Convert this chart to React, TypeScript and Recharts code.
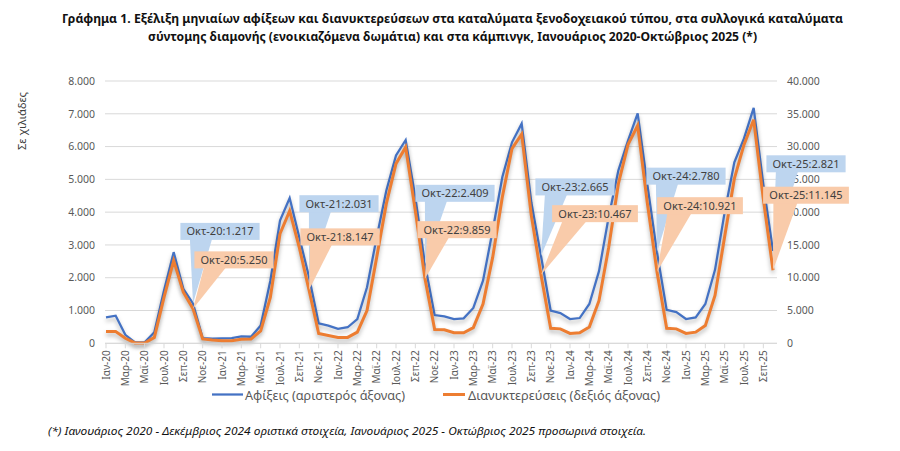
import React from 'react';
import { LineChart, Line, XAxis, YAxis, CartesianGrid } from 'recharts';

const monthNames = ['Ιαν', 'Φεβ', 'Μαρ', 'Απρ', 'Μαϊ', 'Ιουν', 'Ιουλ', 'Αυγ', 'Σεπ', 'Οκτ', 'Νοε', 'Δεκ'];
const years = ['20', '21', '22', '23', '24', '25'];

// Arrivals (thousands) – left axis
const arrivals = [
  790, 840, 260, 30, 30, 340, 1610, 2780, 1660, 1217, 160, 140,
  150, 160, 210, 200, 540, 1910, 3740, 4430, 3230, 2031, 610, 540,
  440, 490, 740, 1710, 3230, 4660, 5730, 6200, 4460, 2409, 860, 820,
  740, 760, 1080, 1910, 3440, 5070, 6130, 6700, 4300, 2665, 1000, 920,
  740, 770, 1200, 2200, 3850, 5270, 6180, 7010, 4850, 2780, 1020, 950,
  740, 790, 1200, 2240, 4000, 5520, 6250, 7180, 4850, 2821,
];

// Overnight stays (thousands) – right axis
const overnights = [
  1800, 1800, 760, 50, 50, 900, 7000, 12600, 7800, 5250, 660, 500,
  400, 400, 600, 660, 1900, 7000, 16700, 20200, 14600, 8147, 1500, 1200,
  900, 900, 1700, 5000, 13100, 21300, 27400, 29900, 20200, 9859, 2100, 2050,
  1600, 1600, 2400, 6000, 13100, 22300, 29700, 31900, 19500, 10467, 2300, 2200,
  1500, 1600, 2500, 6500, 14600, 24300, 30300, 33200, 21400, 10921, 2300, 2200,
  1500, 1700, 2700, 7300, 16300, 25100, 30300, 34100, 22000, 11145,
];

const leftTicks = [0, 1000, 2000, 3000, 4000, 5000, 6000, 7000, 8000];
const rightTicks = [0, 5000, 10000, 15000, 20000, 25000, 30000, 35000, 40000];

const categories: string[] = [];
years.forEach((yr) => monthNames.forEach((m) => categories.push(`${m}-${yr}`)));
const data = arrivals.map((a, i) => ({ cat: categories[i], arrivals: a, overnights: overnights[i] }));

// layout of the callouts (offset of box centre from the point), one per October
const blueCalloutOffsets = [[27, -72], [30, -73], [30, -71], [34, -69], [29, -76], [33, -87]];
const orangeCalloutOffsets = [[41, -49], [31, -53], [32, -49], [54, -61], [43, -66], [33, -75]];

const FONT = '"Noto Sans", "Open Sans", sans-serif';
const fmt = (v: number) => String(Math.round(v)).replace(/\B(?=(\d{3})+(?!\d))/g, '.');

const makeCallout = (kind: 'a' | 'o') => (props: any) => {
  const index = props.index;
  const x = props.x ?? props.viewBox?.x;
  const y = props.y ?? props.viewBox?.y;
  if (index == null || x == null || y == null) return null;
  const cat = categories[index];
  if (!cat || !cat.startsWith('Οκτ')) return null;
  const k = Math.floor(index / 12);
  const off = kind === 'a' ? blueCalloutOffsets[k] : orangeCalloutOffsets[k];
  const value = kind === 'a' ? arrivals[index] : overnights[index];
  const text = `${cat}:${fmt(value)}`;
  const w = text.length * 6.6;
  const h = 17;
  const cx = x + off[0];
  const cy = y + off[1];
  const left = cx - w / 2;
  const top = cy - h / 2;
  const bottom = cy + h / 2;
  const b1 = left + 0.12 * w;
  const b2 = left + 0.4 * w;
  const fill = kind === 'a' ? '#BDD5EF' : '#F9CBAA';
  return (
    <g key={`c-${kind}-${index}`}>
      <polygon points={`${b1},${bottom - 1} ${b2},${bottom - 1} ${x},${y}`} fill={fill} />
      <rect x={left} y={top} width={w} height={h} fill={fill} />
      <text x={cx} y={cy} dy="0.36em" textAnchor="middle" fontSize={11} fontFamily={FONT} fill="#404040">
        {text}
      </text>
    </g>
  );
};

const XTick = (props: any) => {
  const { x, y, payload } = props;
  return (
    <text
      x={x}
      y={y}
      transform={`rotate(-90, ${x}, ${y})`}
      textAnchor="end"
      dy="0.36em"
      fontSize={10}
      fontFamily={FONT}
      fill="#595959"
    >
      {payload.value}
    </text>
  );
};

export default function App() {
  return (
    <div style={{ position: 'absolute', left: 0, top: 0, width: 900, height: 451, background: '#fff', fontFamily: FONT }}>
      <style>{`.lineShadow path { filter: drop-shadow(0px 3px 2px rgba(0,0,0,0.28)); }`}</style>
      <LineChart
        width={900}
        height={451}
        data={data}
        margin={{ top: 81, right: 63, bottom: 67.7, left: 45 }}
      >
        <CartesianGrid vertical={false} stroke="#D9D9D9" yAxisId="left" />
        <XAxis
          dataKey="cat"
          interval={1}
          height={40}
          padding={{ left: 1, right: 4 }}
          tick={<XTick />}
          tickSize={5}
          tickMargin={2}
          axisLine={{ stroke: '#D9D9D9' }}
          tickLine={{ stroke: '#D9D9D9' }}
        />
        <YAxis
          yAxisId="left"
          orientation="left"
          width={60}
          domain={[0, 8000]}
          ticks={leftTicks}
          tickFormatter={fmt}
          axisLine={false}
          tickLine={false}
          tickSize={0}
          tickMargin={10}
          tick={{ fontSize: 10.5, fill: '#595959', fontFamily: FONT }}
        />
        <YAxis
          yAxisId="right"
          orientation="right"
          width={60}
          domain={[0, 40000]}
          ticks={rightTicks}
          tickFormatter={fmt}
          axisLine={false}
          tickLine={false}
          tickSize={0}
          tickMargin={10}
          tick={{ fontSize: 10.5, fill: '#595959', fontFamily: FONT, textAnchor: 'start' }}
        />
        <Line
          className="lineShadow"
          yAxisId="left"
          type="linear"
          dataKey="arrivals"
          stroke="#4472C4"
          strokeWidth={2.25}
          dot={false}
          activeDot={false}
          isAnimationActive={false}
        />
        <Line
          className="lineShadow"
          yAxisId="right"
          type="linear"
          dataKey="overnights"
          stroke="#ED7D31"
          strokeWidth={3}
          dot={false}
          activeDot={false}
          isAnimationActive={false}
        />
        <Line
          yAxisId="left"
          type="linear"
          dataKey="arrivals"
          stroke="none"
          strokeWidth={0}
          dot={false}
          activeDot={false}
          legendType="none"
          isAnimationActive={false}
          label={makeCallout('a')}
        />
        <Line
          yAxisId="right"
          type="linear"
          dataKey="overnights"
          stroke="none"
          strokeWidth={0}
          dot={false}
          activeDot={false}
          legendType="none"
          isAnimationActive={false}
          label={makeCallout('o')}
        />
      </LineChart>
      <svg width={900} height={451} style={{ position: 'absolute', left: 0, top: 0, pointerEvents: 'none' }}>
        <text x={452.5} y={23} textAnchor="middle" fontSize={12} fontWeight="bold" fontFamily={FONT} fill="#111" textLength={781} lengthAdjust="spacingAndGlyphs">
          Γράφημα 1. Εξέλιξη μηνιαίων αφίξεων και διανυκτερεύσεων στα καταλύματα ξενοδοχειακού τύπου, στα συλλογικά καταλύματα
        </text>
        <text x={452.5} y={40.5} textAnchor="middle" fontSize={12} fontWeight="bold" fontFamily={FONT} fill="#111" textLength={609} lengthAdjust="spacingAndGlyphs">
          σύντομης διαμονής (ενοικιαζόμενα δωμάτια) και στα κάμπινγκ, Ιανουάριος 2020-Οκτώβριος 2025 (*)
        </text>
        <text x={22} y={121} transform="rotate(-90, 22, 121)" textAnchor="middle" dy="0.36em" fontSize={11} fontFamily={FONT} fill="#404040" textLength={58} lengthAdjust="spacingAndGlyphs">
          Σε χιλιάδες
        </text>
        <line x1={212} x2={243} y1={394.5} y2={394.5} stroke="#4472C4" strokeWidth={2.25} />
        <text x={245} y={399.5} fontSize={13} fontFamily={FONT} fill="#595959" textLength={160} lengthAdjust="spacingAndGlyphs">
          Αφίξεις (αριστερός άξονας)
        </text>
        <line x1={443} x2={465} y1={394.5} y2={394.5} stroke="#ED7D31" strokeWidth={3} />
        <text x={468} y={399.5} fontSize={13} fontFamily={FONT} fill="#595959" textLength={192} lengthAdjust="spacingAndGlyphs">
          Διανυκτερεύσεις (δεξιός άξονας)
        </text>
        <text x={48} y={434.5} fontSize={11} fontStyle="italic" fontFamily={FONT} fill="#111" textLength={598} lengthAdjust="spacingAndGlyphs">
          (*) Ιανουάριος 2020 - Δεκέμβριος 2024 οριστικά στοιχεία, Ιανουάριος 2025 - Οκτώβριος 2025 προσωρινά στοιχεία.
        </text>
      </svg>
    </div>
  );
}
